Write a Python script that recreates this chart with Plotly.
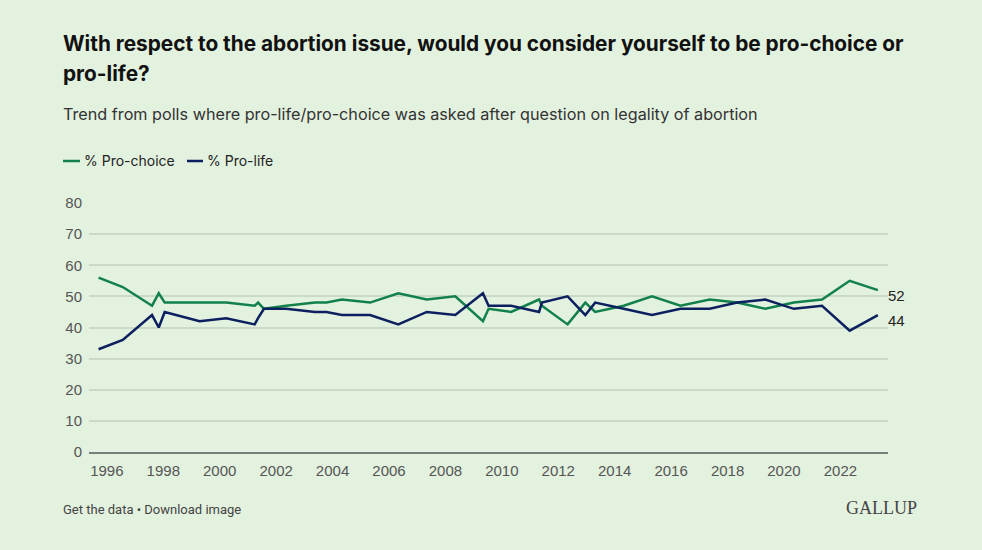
import plotly.graph_objects as go

# ---- data ----
dates = [
    "1995-09-16", "1996-07-25", "1997-08-08", "1997-11-03", "1998-01-19",
    "1999-04-16", "2000-03-25", "2001-03-29", "2001-05-12", "2001-07-27",
    "2002-05-10", "2003-05-19", "2003-10-15", "2004-05-01", "2005-05-01",
    "2006-05-01", "2007-05-05", "2008-05-08", "2009-05-01", "2009-07-13",
    "2010-05-01", "2011-04-28", "2011-06-03", "2012-05-01", "2012-12-16",
    "2013-04-23", "2014-04-28", "2015-04-28", "2016-05-01", "2017-05-15",
    "2018-05-05", "2019-05-05", "2020-05-08", "2021-05-08", "2022-05-01",
    "2023-05-01",
]
pro_choice = [56, 53, 47, 51, 48, 48, 48, 47, 48, 46, 47, 48, 48, 49, 48, 51, 49, 50,
              42, 46, 45, 49, 47, 41, 48, 45, 47, 50, 47, 49, 48, 46, 48, 49, 55, 52]
pro_life = [33, 36, 44, 40, 45, 42, 43, 41, 43, 46, 46, 45, 45, 44, 44, 41, 45, 44,
            51, 47, 47, 45, 48, 50, 44, 48, 46, 44, 46, 46, 48, 49, 46, 47, 39, 44]
series_names = ["% Pro-choice", "% Pro-life"]
y_ticks = [0, 10, 20, 30, 40, 50, 60, 70, 80]

title_line1 = "With respect to the abortion issue, would you consider yourself to be pro-choice or"
title_line2 = "pro-life?"
subtitle = "Trend from polls where pro-life/pro-choice was asked after question on legality of abortion"
footer = "Get the data • Download image"
brand = "GALLUP"

# ---- style ----
W, H = 982, 550
L, R, T, B = 89, 888, 203, 452
GREEN = "#12804a"
NAVY = "#0c1f5e"
BG = "#e3f1df"
SANS = "Inter, Roboto, 'Liberation Sans', Arial, sans-serif"
TICKF = "'Liberation Sans', Arial, sans-serif"


def px(x):
    return (x - L) / (R - L)


def py(y):
    return (B - y) / (B - T)


fig = go.Figure()
for name, vals, col in [(series_names[0], pro_choice, GREEN), (series_names[1], pro_life, NAVY)]:
    fig.add_trace(go.Scatter(x=dates, y=vals, mode="lines", name=name,
                             line=dict(color=col, width=2.5), showlegend=False))

annotations = []
shapes = []

annotations.append(dict(text=f"<b>{title_line1}</b>", x=px(61), y=py(43), xref="paper", yref="paper",
                        xanchor="left", yanchor="middle", showarrow=False,
                        font=dict(family=SANS, size=20.8, color="#111")))
annotations.append(dict(text=f"<b>{title_line2}</b>", x=px(61), y=py(73), xref="paper", yref="paper",
                        xanchor="left", yanchor="middle", showarrow=False,
                        font=dict(family=SANS, size=20.8, color="#111")))
annotations.append(dict(text=subtitle, x=px(61), y=py(114), xref="paper", yref="paper",
                        xanchor="left", yanchor="middle", showarrow=False,
                        font=dict(family=SANS, size=16.2, color="#333")))

# legend
for (x0, x1, tx, name, col) in [(63, 80, 82, series_names[0], GREEN), (187, 203, 205, series_names[1], NAVY)]:
    shapes.append(dict(type="line", xref="paper", yref="paper", x0=px(x0), x1=px(x1),
                       y0=py(161), y1=py(161), line=dict(color=col, width=2.5)))
    annotations.append(dict(text=name, x=px(tx), y=py(161), xref="paper", yref="paper",
                            xanchor="left", yanchor="middle", showarrow=False,
                            font=dict(family=SANS, size=14, color="#222")))

# end labels
for vals in (pro_choice, pro_life):
    annotations.append(dict(text=str(vals[-1]), x=dates[-1], y=vals[-1], xref="x", yref="y",
                            xanchor="left", yanchor="middle", xshift=8, yshift=-5, showarrow=False,
                            font=dict(family=TICKF, size=15, color="#222")))

# footer
annotations.append(dict(text=footer, x=px(61), y=py(509), xref="paper", yref="paper",
                        xanchor="left", yanchor="middle", showarrow=False,
                        font=dict(family="Roboto, sans-serif", size=13, color="#444")))
annotations.append(dict(text=brand, x=px(919), y=py(508), xref="paper", yref="paper",
                        xanchor="right", yanchor="middle", showarrow=False,
                        font=dict(family="'Liberation Serif', 'DejaVu Serif', serif", size=18, color="#444")))

fig.update_layout(
    width=W, height=H,
    margin=dict(l=L, r=W - R, t=T, b=H - B, pad=0),
    paper_bgcolor=BG, plot_bgcolor=BG,
    annotations=annotations, shapes=shapes,
    showlegend=False,
    xaxis=dict(type="date", range=["1995-05-15", "2023-09-09"], tick0="1996-01-01", dtick="M24",
               tickformat="%Y", showgrid=False, zeroline=False, showline=True,
               linecolor="#7a7f7a", linewidth=1.5, ticks="",
               tickfont=dict(family=TICKF, size=15, color="#555"),
               ticklabelstandoff=4, fixedrange=True),
    yaxis=dict(range=[0, 80], tickvals=y_ticks, showgrid=True, gridcolor="#cbd9c8", gridwidth=1.5,
               zeroline=False, showline=False, ticks="",
               tickfont=dict(family=TICKF, size=15, color="#555"),
               ticklabelstandoff=6, fixedrange=True),
)

fig.write_html("out.html", config={"displayModeBar": False},
               post_script="document.body.style.margin='0';document.body.style.background='" + BG + "';")
